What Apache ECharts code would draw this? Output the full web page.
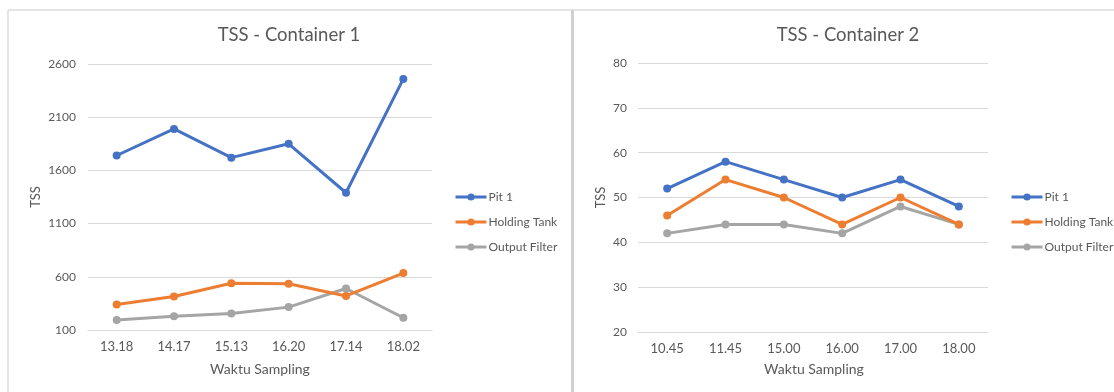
<!DOCTYPE html>
<html>
<head>
<meta charset="utf-8">
<script src="https://cdn.jsdelivr.net/npm/echarts@6/dist/echarts.min.js"></script>
<style>
  html, body { margin: 0; padding: 0; background: #ffffff; }
  #chart { width: 1114px; height: 392px; }
</style>
</head>
<body>
<div id="chart"></div>
<script>
// Sampling times for each container
const times1 = ['13.18', '14.17', '15.13', '16.20', '17.14', '18.02'];
const times2 = ['10.45', '11.45', '15.00', '16.00', '17.00', '18.00'];

// TSS readings, container 1
const pit1C1 = [1740, 1990, 1720, 1850, 1390, 2460];
const holdingC1 = [340, 415, 540, 535, 420, 635];
const outputC1 = [195, 230, 255, 315, 490, 215];

// TSS readings, container 2
const pit1C2 = [52, 58, 54, 50, 54, 48];
const holdingC2 = [46, 54, 50, 44, 50, 44];
const outputC2 = [42, 44, 44, 42, 48, 44];

const seriesNames = ['Pit 1', 'Holding Tank', 'Output Filter'];
const colors = ['#4472C4', '#ED7D31', '#A5A5A5'];

const FONT = 'Lato, "Open Sans", sans-serif';
const TEXT = '#595959';
const GRID_LINE = '#d9d9d9';

function lineSeries(name, data, idx, axisIdx) {
  return {
    name: name,
    type: 'line',
    xAxisIndex: axisIdx,
    yAxisIndex: axisIdx,
    data: data,
    symbol: 'circle',
    symbolSize: 8,
    lineStyle: { width: 3, color: colors[idx] },
    itemStyle: { color: colors[idx] },
    emphasis: { disabled: true },
    z: 3 + (2 - idx)
  };
}

function catAxis(labels, idx) {
  return {
    type: 'category',
    gridIndex: idx,
    data: labels,
    boundaryGap: true,
    axisLine: { lineStyle: { color: GRID_LINE, width: 1.2 } },
    axisTick: { show: false },
    axisLabel: { color: TEXT, fontFamily: FONT, fontSize: 13, margin: 10 }
  };
}

function valAxis(idx, min, max, interval, gap, margin) {
  return {
    type: 'value',
    gridIndex: idx,
    min: min,
    max: max,
    interval: interval,
    name: 'TSS',
    nameLocation: 'middle',
    nameGap: gap,
    nameTextStyle: { color: TEXT, fontFamily: FONT, fontSize: 13 },
    axisLine: { show: false },
    axisTick: { show: false },
    splitLine: { lineStyle: { color: GRID_LINE, width: 1.2 } },
    axisLabel: {
      color: TEXT, fontFamily: FONT, fontSize: 12, margin: margin,
      formatter: function (v) { return String(v); }
    }
  };
}

function legend(left) {
  return {
    orient: 'vertical',
    left: left,
    top: 191,
    padding: 0,
    itemWidth: 31,
    itemHeight: 9,
    itemGap: 13,
    data: seriesNames,
    selectedMode: false,
    lineStyle: { width: 3 },
    textStyle: { color: TEXT, fontFamily: FONT, fontSize: 12, padding: [0, 0, 0, -3] }
  };
}

function label(x, y, text, size) {
  return {
    type: 'text',
    x: x,
    y: y,
    style: {
      text: text,
      fill: TEXT,
      font: size + 'px ' + FONT,
      textAlign: 'center',
      textVerticalAlign: 'middle'
    }
  };
}

const chart = echarts.init(document.getElementById('chart'), null, { renderer: 'canvas' });

chart.setOption({
  animation: false,
  backgroundColor: '#ffffff',
  grid: [
    { left: 88, top: 64, width: 344, height: 266 },
    { left: 638, top: 63, width: 350, height: 269 }
  ],
  xAxis: [catAxis(times1, 0), catAxis(times2, 1)],
  yAxis: [valAxis(0, 100, 2600, 500, 46, 12), valAxis(1, 20, 80, 10, 31, 11)],
  legend: [legend(454), legend(1010)],
  series: [
    lineSeries(seriesNames[0], pit1C1, 0, 0),
    lineSeries(seriesNames[1], holdingC1, 1, 0),
    lineSeries(seriesNames[2], outputC1, 2, 0),
    lineSeries(seriesNames[0], pit1C2, 0, 1),
    lineSeries(seriesNames[1], holdingC2, 1, 1),
    lineSeries(seriesNames[2], outputC2, 2, 1)
  ],
  graphic: [
    // panel frames
    { type: 'line', shape: { x1: 8, y1: 10, x2: 1114, y2: 10 }, style: { stroke: '#dcdcdc', lineWidth: 1.5 } },
    { type: 'line', shape: { x1: 8, y1: 10, x2: 8, y2: 392 }, style: { stroke: '#dcdcdc', lineWidth: 1.5 } },
    { type: 'line', shape: { x1: 572.5, y1: 10, x2: 572.5, y2: 392 }, style: { stroke: '#d0d0d0', lineWidth: 3 } },
    // chart titles
    label(289, 35, 'TSS - Container 1', 18.5),
    label(848, 35, 'TSS - Container 2', 18.5),
    // x-axis titles
    label(260, 369, 'Waktu Sampling', 14),
    label(814, 369, 'Waktu Sampling', 14)
  ]
});
</script>
</body>
</html>
